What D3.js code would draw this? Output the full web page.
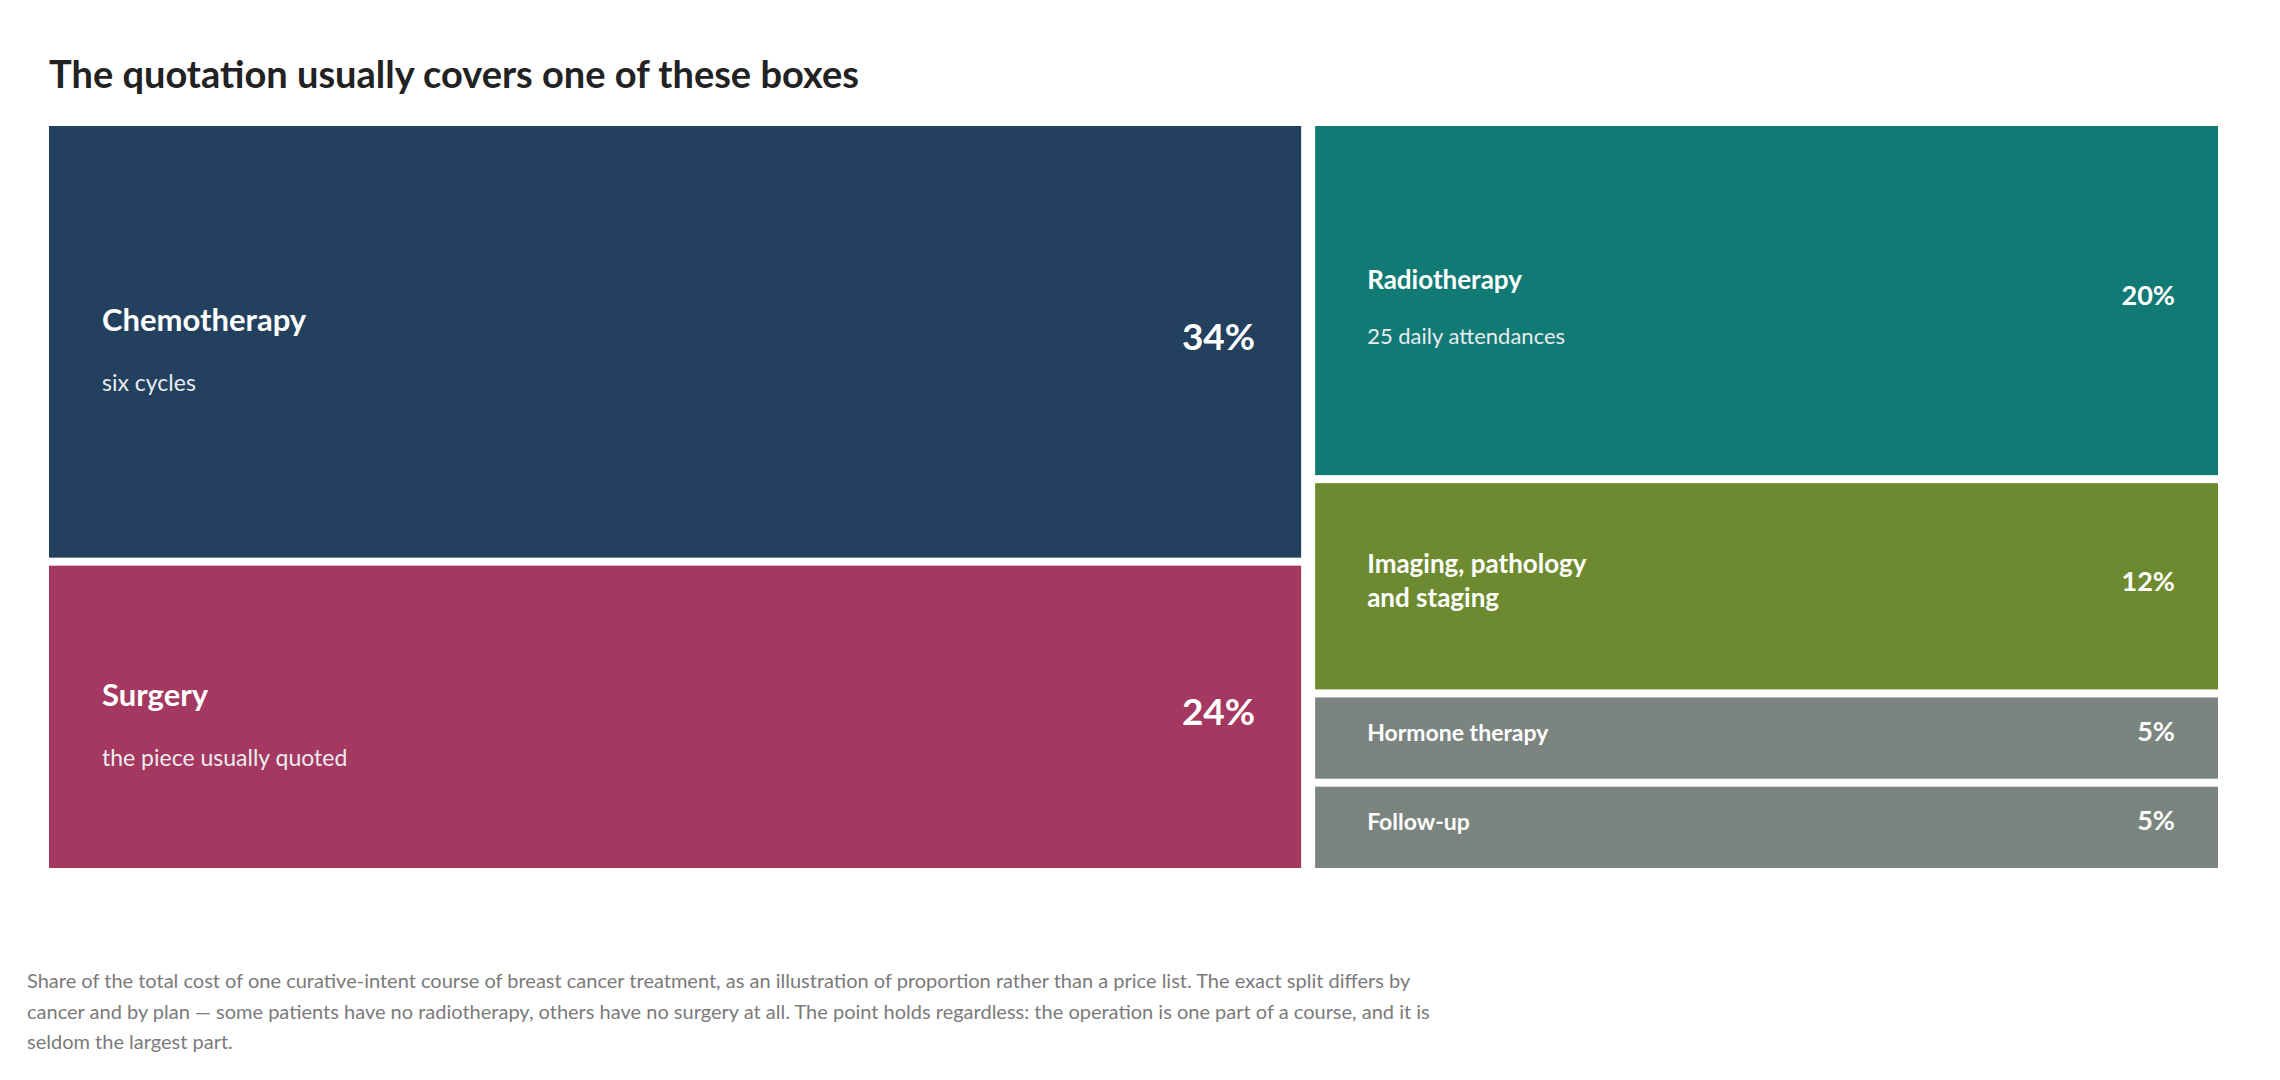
<!DOCTYPE html>
<html><head><meta charset="utf-8">
<script src="https://cdn.jsdelivr.net/npm/d3@7"></script>
<style>body{margin:0;background:#fff;font-family:Lato,sans-serif}</style>
</head><body><svg id="c" width="2280" height="1080"></svg>
<script>
const groups = ["left","right"];
const categories = ["Chemotherapy","Surgery","Radiotherapy","Imaging, pathology\nand staging","Hormone therapy","Follow-up"];
const shares = [34,24,20,12,5,5];
const subtitles = ["six cycles","the piece usually quoted","25 daily attendances","","",""];
const groupOf = ["left","left","right","right","right","right"];
const colors = ["#23405e","#a53860","#117a74","#6e8a30","#7b847f","#7b847f"];
const footnote = [
 "Share of the total cost of one curative-intent course of breast cancer treatment, as an illustration of proportion rather than a price list. The exact split differs by",
 "cancer and by plan \u2014 some patients have no radiotherapy, others have no surgery at all. The point holds regardless: the operation is one part of a course, and it is",
 "seldom the largest part."];

const svg = d3.select("#c");
svg.append("text").attr("x",49).attr("y",88).attr("font-size",38).attr("font-weight",700)
  .attr("fill","#222").text("The quotation usually covers one of these boxes");

const data = {children: groups.map(g=>({name:g, children: categories.map((c,i)=>({name:c,i,value:shares[i]})).filter(d=>groupOf[d.i]===g)}))};
const root = d3.hierarchy(data).sum(d=>d.value||0);
d3.treemap().tile(d3.treemapSliceDice).size([2169,742])
  .paddingInner(d=>d.depth===0?14:8)(root);

const g = svg.append("g").attr("transform","translate(49,126)");
const leaves = g.selectAll("g.leaf").data(root.leaves()).join("g").attr("class","leaf")
  .attr("transform",d=>`translate(${d.x0},${d.y0})`);
leaves.append("rect").attr("width",d=>d.x1-d.x0).attr("height",d=>d.y1-d.y0).attr("fill",d=>colors[d.data.i]);
leaves.each(function(d){
  const s = d3.select(this), i=d.data.i, w=d.x1-d.x0, h=d.y1-d.y0, cy=h/2;
  const big = d.parent.data.name==="left";
  const small = shares[i]<10;
  const tsize = big?31:(small?23:26), psize = big?37:(small?27:27);
  const lx = big?53:52, rx = w-(big?46:43);
  const lines = categories[i].split("\n");
  const sub = subtitles[i];
  let ty;
  if (sub) ty = cy - (big?23:22);
  else ty = cy - (lines.length-1)*17 - 6;
  lines.forEach((l,k)=>s.append("text").attr("x",lx).attr("y",ty+k*34).attr("dominant-baseline","central")
    .attr("font-size",tsize).attr("font-weight",700).attr("fill","#fff").text(l));
  if (sub) s.append("text").attr("x",lx).attr("y",cy+(big?40:35)).attr("dominant-baseline","central")
    .attr("font-size",big?23:22).attr("fill","#e8edf0").text(sub);
  s.append("text").attr("x",rx).attr("y",small?cy-8:cy-6).attr("text-anchor","end").attr("dominant-baseline","central")
    .attr("font-size",psize).attr("font-weight",700).attr("fill","#fff").text(shares[i]+"%");
});
svg.append("g").selectAll("text").data(footnote).join("text")
  .attr("x",27).attr("y",(d,k)=>988+k*30.5).attr("font-size",20).attr("fill","#7a7a7a").text(d=>d);
</script></body></html>
